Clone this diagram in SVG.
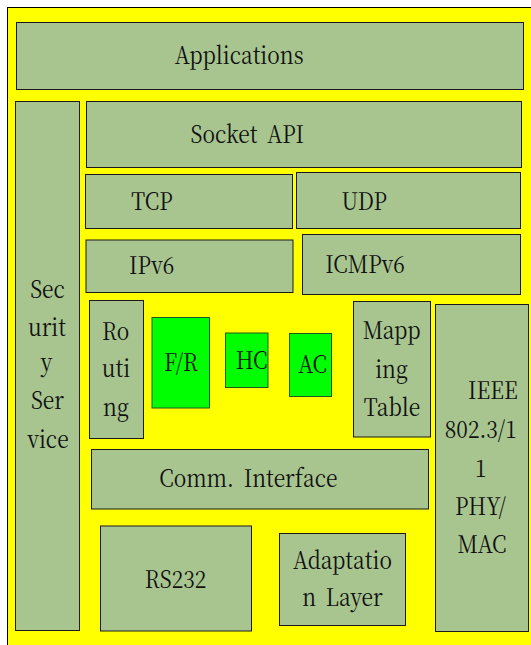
<svg xmlns="http://www.w3.org/2000/svg" width="531" height="645" viewBox="0 0 531 645">
<style>
.b{fill:#a8c590;stroke:#1a1a1a;stroke-width:1}
.g{fill:#00ff00;stroke:#1e5a1e;stroke-width:1}
text{font-family:'Noto Serif CJK KR','Liberation Serif',serif;font-size:24px;fill:#111;text-anchor:middle}
.s{text-anchor:start}
.w{word-spacing:5px}
</style>
<defs>
<clipPath id="cHC"><rect x="225.5" y="333" width="42.5" height="54.5"/></clipPath>
<clipPath id="cAC"><rect x="289.5" y="333.5" width="42" height="63"/></clipPath>
</defs>
<rect x="7.5" y="7.5" width="540" height="660" fill="#ffff00" stroke="#000" stroke-width="1"/>
<g id="applications"><rect class="b" x="16.5" y="22.5" width="507" height="67"/><text transform="matrix(0.875 0 0 1 239.2 0)" x="0" y="64.3">Applications</text></g>
<g id="security"><rect class="b" x="15.5" y="101.5" width="64" height="529"/>
<text transform="matrix(0.875 0 0 1 47.5 0)" x="0" y="297.7">Sec</text>
<text transform="matrix(0.875 0 0 1 47 0)" x="0" y="335.7">urit</text>
<text transform="matrix(0.875 0 0 1 46.5 0)" x="0" y="371.5">y</text>
<text transform="matrix(0.875 0 0 1 47.5 0)" x="0" y="409.3">Ser</text>
<text transform="matrix(0.875 0 0 1 48 0)" x="0" y="448.3">vice</text></g>
<g id="socket"><rect class="b" x="86.5" y="101.5" width="435" height="66"/><text class="w" transform="matrix(0.875 0 0 1 247.2 0)" x="0" y="142.7">Socket API</text></g>
<g id="tcp"><rect class="b" x="85.5" y="174.5" width="207" height="54"/><text transform="matrix(0.875 0 0 1 152 0)" x="0" y="210">TCP</text></g>
<g id="udp"><rect class="b" x="296.5" y="172.5" width="224" height="56"/><text transform="matrix(0.875 0 0 1 364.2 0)" x="0" y="210">UDP</text></g>
<g id="ipv6"><rect class="b" x="86" y="240" width="207" height="52.5"/><text transform="matrix(0.875 0 0 1 151.7 0)" x="0" y="274.3">IPv6</text></g>
<g id="icmpv6"><rect class="b" x="302.5" y="234.5" width="218" height="60"/><text transform="matrix(0.875 0 0 1 365 0)" x="0" y="273.5">ICMPv6</text></g>
<g id="routing"><rect class="b" x="89.5" y="300.5" width="54" height="138"/>
<text transform="matrix(0.875 0 0 1 115.7 0)" x="0" y="340">Ro</text>
<text transform="matrix(0.875 0 0 1 116 0)" x="0" y="377.3">uti</text>
<text transform="matrix(0.875 0 0 1 116 0)" x="0" y="416">ng</text></g>
<g id="fr"><rect class="g" x="152" y="317.5" width="57.5" height="90.5"/><text transform="matrix(0.875 0 0 1 181 0)" x="0" y="371">F/R</text></g>
<g id="hc"><rect class="g" x="225.5" y="333" width="42.5" height="54.5"/><g clip-path="url(#cHC)"><text class="s" transform="matrix(0.875 0 0 1 235.7 0)" x="0" y="369">HC</text></g></g>
<g id="ac"><rect class="g" x="289.5" y="333.5" width="42" height="63"/><g clip-path="url(#cAC)"><text class="s" transform="matrix(0.875 0 0 1 298.3 0)" x="0" y="373.3">AC</text></g></g>
<g id="mapping"><rect class="b" x="353.5" y="301.5" width="77" height="135.5"/>
<text transform="matrix(0.875 0 0 1 391.7 0)" x="0" y="339.3">Mapp</text>
<text transform="matrix(0.875 0 0 1 391.5 0)" x="0" y="378.3">ing</text>
<text transform="matrix(0.875 0 0 1 392 0)" x="0" y="415.7">Table</text></g>
<g id="ieee"><rect class="b" x="435.5" y="304.5" width="93" height="327"/>
<text transform="matrix(0.875 0 0 1 492.8 0)" x="0" y="399.3">IEEE</text>
<text transform="matrix(0.875 0 0 1 480.8 0)" x="0" y="438.3">802.3/1</text>
<text transform="matrix(0.875 0 0 1 480.8 0)" x="0" y="476.7">1</text>
<text transform="matrix(0.875 0 0 1 480.5 0)" x="0" y="515">PHY/</text>
<text transform="matrix(0.875 0 0 1 482 0)" x="0" y="553.3">MAC</text></g>
<g id="comm"><rect class="b" x="91.5" y="449.5" width="337" height="59.5"/><text class="w" transform="matrix(0.875 0 0 1 248.3 0)" x="0" y="487.3">Comm. Interface</text></g>
<g id="rs232"><rect class="b" x="100.5" y="526" width="151" height="105"/><text transform="matrix(0.875 0 0 1 175.5 0)" x="0" y="587.7">RS232</text></g>
<g id="adaptation"><rect class="b" x="279.5" y="533.5" width="126" height="92"/>
<text transform="matrix(0.875 0 0 1 342.5 0)" x="0" y="569.3">Adaptatio</text>
<text class="w" transform="matrix(0.875 0 0 1 342.5 0)" x="0" y="606">n Layer</text></g>
<g id="connectors"/>
</svg>
